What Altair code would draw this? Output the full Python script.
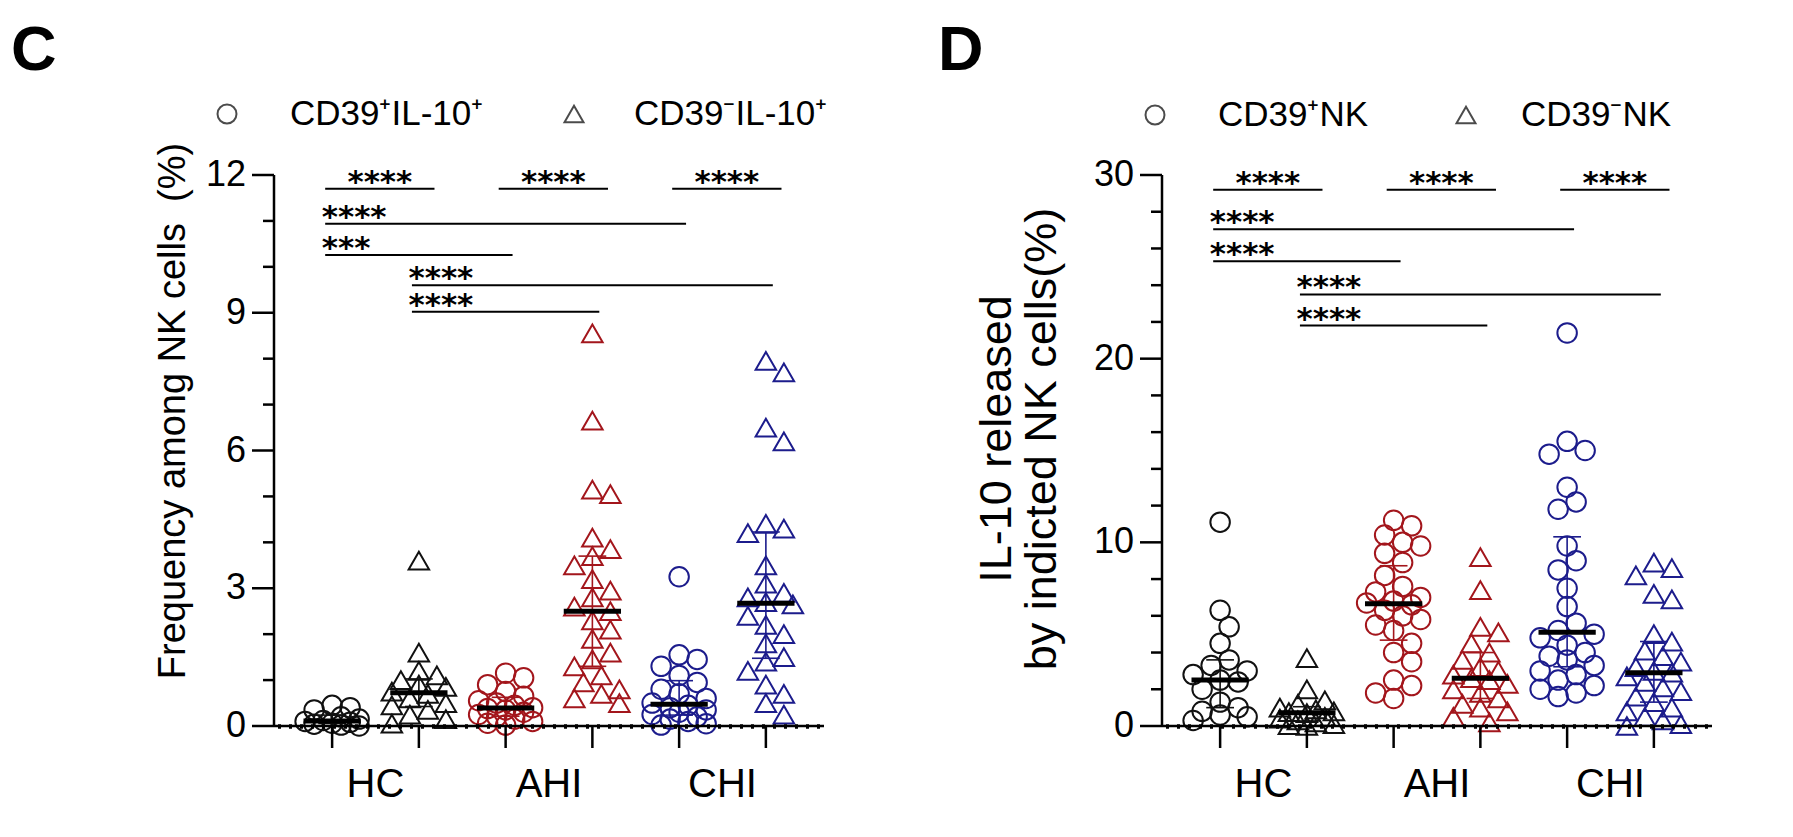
import altair as alt
import numpy as np
import pandas as pd

# ---------------- data ----------------
GROUPS = ["HC", "AHI", "CHI"]
COLORS = {"HC": "#111111", "AHI": "#a3161c", "CHI": "#1c1c8c"}
SERIES_C = ["CD39\u207aIL-10\u207a", "CD39\u207bIL-10\u207a"]
SERIES_D = ["CD39\u207aNK", "CD39\u207bNK"]

# Panel C: frequency among NK cells (%)
HC_CIRC_C = [0.45, 0.4, 0.35, 0.2, 0.15, 0.12, 0.1, 0.08, 0.06, 0.04, 0.02, 0.0]
HC_TRI_C = [3.6, 1.6, 1.2, 1.1, 1.0, 0.9, 0.85, 0.75, 0.7, 0.6, 0.5, 0.45, 0.35, 0.25, 0.15, 0.05]
AHI_CIRC_C = [1.15, 1.05, 0.9, 0.75, 0.65, 0.55, 0.5, 0.45, 0.4, 0.38, 0.35, 0.3, 0.25, 0.2, 0.15, 0.1, 0.06, 0.02]
AHI_TRI_C = [8.55, 6.65, 5.15, 5.05, 4.1, 3.85, 3.7, 3.5, 3.2, 2.95, 2.8, 2.6, 2.5, 2.3, 2.1, 1.9,
             1.6, 1.45, 1.3, 1.1, 0.95, 0.8, 0.7, 0.6, 0.5]
CHI_CIRC_C = [3.25, 1.55, 1.45, 1.3, 1.1, 0.95, 0.8, 0.7, 0.6, 0.5, 0.45, 0.4, 0.35, 0.3, 0.25, 0.2,
              0.15, 0.1, 0.05, 0.02]
CHI_TRI_C = [7.95, 7.7, 6.5, 6.2, 4.4, 4.3, 4.2, 3.5, 3.1, 2.9, 2.8, 2.7, 2.65, 2.4, 2.2, 2.0, 1.8,
             1.5, 1.4, 1.2, 0.9, 0.7, 0.5, 0.25]

# Panel D: IL-10 released by indicated NK cells (%)
HC_CIRC_D = [11.1, 6.3, 5.4, 4.5, 3.6, 3.3, 3.0, 2.8, 2.5, 2.4, 2.0, 1.3, 1.0, 0.8, 0.6, 0.5, 0.3]
HC_TRI_D = [3.7, 2.0, 1.4, 1.2, 1.0, 0.9, 0.8, 0.75, 0.7, 0.5, 0.4, 0.3, 0.2, 0.1, 0.05, 0.0]
AHI_CIRC_D = [11.2, 10.9, 10.4, 10.0, 9.8, 9.4, 8.9, 8.2, 7.6, 7.3, 7.0, 6.8, 6.7, 6.6, 6.3, 6.0,
              5.8, 5.5, 5.2, 4.5, 4.0, 3.5, 2.5, 2.2, 1.8, 1.5]
AHI_TRI_D = [9.2, 7.4, 5.4, 5.1, 4.5, 4.0, 3.6, 3.2, 3.0, 2.8, 2.6, 2.5, 2.3, 2.0, 1.8, 1.5, 1.2,
             1.0, 0.8, 0.5, 0.2]
CHI_CIRC_D = [21.4, 15.5, 15.0, 14.8, 13.0, 12.2, 11.8, 9.8, 9.0, 8.5, 7.5, 6.5, 5.6, 5.2, 5.0,
              4.8, 4.4, 4.0, 3.8, 3.6, 3.3, 3.0, 2.8, 2.5, 2.2, 2.0, 1.8, 1.6]
CHI_TRI_D = [8.9, 8.6, 8.2, 7.2, 6.9, 5.0, 4.6, 4.1, 3.8, 3.5, 3.2, 3.0, 2.9, 2.7, 2.4, 2.1, 1.9,
             1.6, 1.3, 1.0, 0.8, 0.5, 0.3, 0.1, 0.0]

# significance brackets (group index from, to, height, label)
BR_C_FROM = [1, 3, 5, 1, 1, 2, 2]
BR_C_TO = [2, 4, 6, 5, 3, 6, 4]
BR_C_Y = [11.7, 11.7, 11.7, 10.94, 10.26, 9.6, 9.02]
BR_C_LABEL = ["****", "****", "****", "****", "***", "****", "****"]

BR_D_FROM = [1, 3, 5, 1, 1, 2, 2]
BR_D_TO = [2, 4, 6, 5, 3, 6, 4]
BR_D_Y = [29.2, 29.2, 29.2, 27.05, 25.3, 23.5, 21.8]
BR_D_LABEL = ["****"] * 7

C_MAJOR = [0, 3, 6, 9, 12]
C_MINOR = [1, 2, 4, 5, 7, 8, 10, 11]
D_MAJOR = [0, 10, 20, 30]
D_MINOR = [2, 4, 6, 8, 12, 14, 16, 18, 22, 24, 26, 28]

TITLE_C = "Frequency among NK cells\u00a0\u00a0(%)"
TITLE_D = ["IL-10 released", "by indicted NK cells(%)"]

# ---------------- layout helpers ----------------
W, H = 550, 551
X_DOMAIN = [0.33, 6.67]
PX_X = W / (X_DOMAIN[1] - X_DOMAIN[0])
FONT = "Liberation Sans"
LW = 2.5


def swarm(vals, ppu, step=9.0, min_d=17.0, kmax=3):
    vals = np.asarray(vals, float)
    order = np.argsort(-vals, kind="stable")
    placed = []
    dx = np.zeros(len(vals))
    cands = [0.0]
    for k in range(1, kmax + 1):
        cands += [k * step, -k * step]
    for i in order:
        y = vals[i] * ppu
        best, bestd = 0.0, -1.0
        for c in cands:
            d = min((np.hypot(c - px, y - py) for px, py in placed), default=1e9)
            if d >= min_d:
                best, bestd = c, d
                break
            if d > bestd:
                best, bestd = c, d
        dx[i] = best
        placed.append((best, y))
    return dx


def build_points(series, ymax):
    ppu = H / ymax
    rows = []
    for g, vals in enumerate(series):
        cond = GROUPS[g // 2]
        shape = "circle" if g % 2 == 0 else "triangle-up"
        dx = swarm(vals, ppu)
        for v, d in zip(vals, dx):
            rows.append({"idx": g + 1, "value": v, "x": g + 1 + d / PX_X,
                         "shape": shape, "color": COLORS[cond], "cond": cond,
                         "size": 380 if g % 2 == 0 else 420})
    return pd.DataFrame(rows)


def panel(series, ymax, major, minor, title, title_x, title_y, title_size,
          br_from, br_to, br_y, br_label, legend_labels, legend_pos, letter, letter_x):
    df = build_points(series, ymax)
    xs = alt.Scale(domain=X_DOMAIN, nice=False, zero=False)
    ys = alt.Scale(domain=[0, ymax], nice=False, zero=True)
    base = alt.Chart(df)
    one = pd.DataFrame({"a": [0]})

    pts = base.mark_point(filled=False, strokeWidth=2.0, opacity=1).encode(
        x=alt.X("x:Q", scale=xs, axis=None),
        y=alt.Y("value:Q", scale=ys, axis=None),
        shape=alt.Shape("shape:N", scale=None),
        color=alt.Color("color:N", scale=None),
        size=alt.Size("size:Q", scale=None),
    )

    # ---- hand-drawn axes ----
    y_dom = alt.Chart(one).mark_rule(strokeWidth=LW, color="black").encode(
        x=alt.value(0), y=alt.value(0), y2=alt.value(H))
    x_dom = alt.Chart(one).mark_rule(strokeWidth=LW, color="black").encode(
        x=alt.value(0), x2=alt.value(W), y=alt.value(H))
    x_dots = alt.Chart(one).mark_rule(strokeWidth=4.5, color="black", strokeDash=[3, 8]).encode(
        x=alt.value(4), x2=alt.value(W), y=alt.value(H + 0.5))
    maj_df = pd.DataFrame({"v": major})
    y_major = alt.Chart(maj_df).mark_rule(strokeWidth=LW, color="black").encode(
        y=alt.Y("v:Q", scale=ys, axis=None), x=alt.value(-22), x2=alt.value(0))
    y_labels = alt.Chart(maj_df).mark_text(
        align="right", baseline="middle", fontSize=36, font=FONT, color="black").encode(
        y=alt.Y("v:Q", scale=ys, axis=None), x=alt.value(-28), text="v:Q")
    minor_df = pd.DataFrame({"m": minor})
    y_minor = alt.Chart(minor_df).mark_rule(strokeWidth=LW, color="black").encode(
        y=alt.Y("m:Q", scale=ys, axis=None), x=alt.value(-11), x2=alt.value(0))
    xt_df = pd.DataFrame({"t": [1, 2, 3, 4, 5, 6]})
    x_ticks = alt.Chart(xt_df).mark_rule(strokeWidth=LW, color="black").encode(
        x=alt.X("t:Q", scale=xs, axis=None), y=alt.value(H), y2=alt.value(H + 22))
    y_title = alt.Chart(one).mark_text(
        angle=270, align="center", baseline="middle", fontSize=title_size, font=FONT,
        color="black", lineHeight=45, text=title).encode(
        x=alt.value(title_x), y=alt.value(title_y))

    # ---- median & IQR ----
    agg = base.transform_aggregate(
        q1="q1(value)", q3="q3(value)", med="median(value)", groupby=["idx", "color"]
    )
    iqr = agg.mark_rule(strokeWidth=1.6).encode(
        x=alt.X("idx:Q", scale=xs, axis=None),
        y=alt.Y("q1:Q", scale=ys, axis=None), y2="q3:Q",
        color=alt.Color("color:N", scale=None))
    caps = agg.transform_fold(["q1", "q3"], as_=["k", "qv"]).transform_calculate(
        xl="datum.idx - 0.16", xr="datum.idx + 0.16"
    ).mark_rule(strokeWidth=1.6).encode(
        x=alt.X("xl:Q", scale=xs, axis=None), x2="xr:Q",
        y=alt.Y("qv:Q", scale=ys, axis=None),
        color=alt.Color("color:N", scale=None))
    med = agg.transform_calculate(
        xl="datum.idx - 0.33", xr="datum.idx + 0.33"
    ).mark_rule(strokeWidth=5, color="black").encode(
        x=alt.X("xl:Q", scale=xs, axis=None), x2="xr:Q",
        y=alt.Y("med:Q", scale=ys, axis=None))

    # ---- significance brackets ----
    br = pd.DataFrame({"f": br_from, "t": br_to, "y": br_y, "label": br_label})
    br["pair"] = (br["t"] - br["f"]) == 1
    br["x1"] = br["f"] - 0.08
    br["x2"] = br["t"] + np.where(br["pair"], 0.18, 0.08)
    br["tx"] = np.where(br["pair"], (br["f"] + br["t"]) / 2 + 0.05, br["x1"] - 0.04)
    br_lines = alt.Chart(br).mark_rule(strokeWidth=2, color="black").encode(
        x=alt.X("x1:Q", scale=xs, axis=None), x2="x2:Q",
        y=alt.Y("y:Q", scale=ys, axis=None))
    star_style = dict(baseline="alphabetic", dy=3, fontSize=31, fontWeight="bold",
                      font="DejaVu Sans", color="black")
    br_c = alt.Chart(br[br["pair"]]).mark_text(align="center", **star_style).encode(
        x=alt.X("tx:Q", scale=xs, axis=None), y=alt.Y("y:Q", scale=ys, axis=None),
        text="label:N")
    br_l = alt.Chart(br[~br["pair"]]).mark_text(align="left", **star_style).encode(
        x=alt.X("tx:Q", scale=xs, axis=None), y=alt.Y("y:Q", scale=ys, axis=None),
        text="label:N")

    cat = pd.DataFrame({"cx": [1.5, 3.5, 5.5], "label": GROUPS})
    cats = alt.Chart(cat).mark_text(fontSize=40, font=FONT, color="black",
                                    baseline="middle", align="center").encode(
        x=alt.X("cx:Q", scale=xs, axis=None), y=alt.value(H + 59), text="label:N")

    (cx, cy), (tx, ty), (c2x, c2y), (t2x, t2y) = legend_pos
    lg = [
        alt.Chart(one).mark_point(shape="circle", filled=False, size=360, strokeWidth=2,
                                  color="black").encode(x=alt.value(cx), y=alt.value(cy)),
        alt.Chart(one).mark_point(shape="triangle-up", filled=False, size=360, strokeWidth=2,
                                  color="black").encode(x=alt.value(c2x), y=alt.value(c2y)),
        alt.Chart(one).mark_text(align="left", baseline="middle", fontSize=35, font=FONT,
                                 color="black", text=legend_labels[0]).encode(
            x=alt.value(tx), y=alt.value(ty)),
        alt.Chart(one).mark_text(align="left", baseline="middle", fontSize=35, font=FONT,
                                 color="black", text=legend_labels[1]).encode(
            x=alt.value(t2x), y=alt.value(t2y)),
        alt.Chart(one).mark_text(align="left", baseline="top", fontSize=63, font=FONT,
                                 fontWeight="bold", color="black", text=letter).encode(
            x=alt.value(letter_x), y=alt.value(-155)),
    ]

    layers = [pts, y_dom, x_dom, x_dots, y_major, y_minor, y_labels, x_ticks, y_title,
              iqr, caps, med, br_lines, br_c, br_l, cats] + lg
    return alt.layer(*layers).properties(width=W, height=H)


chart_c = panel([HC_CIRC_C, HC_TRI_C, AHI_CIRC_C, AHI_TRI_C, CHI_CIRC_C, CHI_TRI_C], 12,
                C_MAJOR, C_MINOR, TITLE_C, -100, 236, 38,
                BR_C_FROM, BR_C_TO, BR_C_Y, BR_C_LABEL, SERIES_C,
                [(-47, -61), (16, -61), (300, -61), (360, -61)], "C", -263)

chart_d = panel([HC_CIRC_D, HC_TRI_D, AHI_CIRC_D, AHI_TRI_D, CHI_CIRC_D, CHI_TRI_D], 30,
                D_MAJOR, D_MINOR, TITLE_D, -165, 264, 45,
                BR_D_FROM, BR_D_TO, BR_D_Y, BR_D_LABEL, SERIES_D,
                [(-7, -60), (56, -60), (304, -60), (359, -60)], "D", -224)

# invisible anchor fixing the top-left of the page layout
anchor = alt.Chart(pd.DataFrame({"a": [0]})).mark_rule(strokeOpacity=0, strokeWidth=1).encode(
    x=alt.value(-266), x2=alt.value(-265), y=alt.value(-167), y2=alt.value(-166))
chart_c = alt.layer(chart_c, anchor)

chart = alt.hconcat(chart_c, chart_d, spacing=338, bounds="flush").properties(
    padding={"left": 0, "top": 0, "right": 5, "bottom": 5}, background="white"
).configure_view(stroke=None)

chart.save("out.html", embed_options={"renderer": "svg", "actions": False})
